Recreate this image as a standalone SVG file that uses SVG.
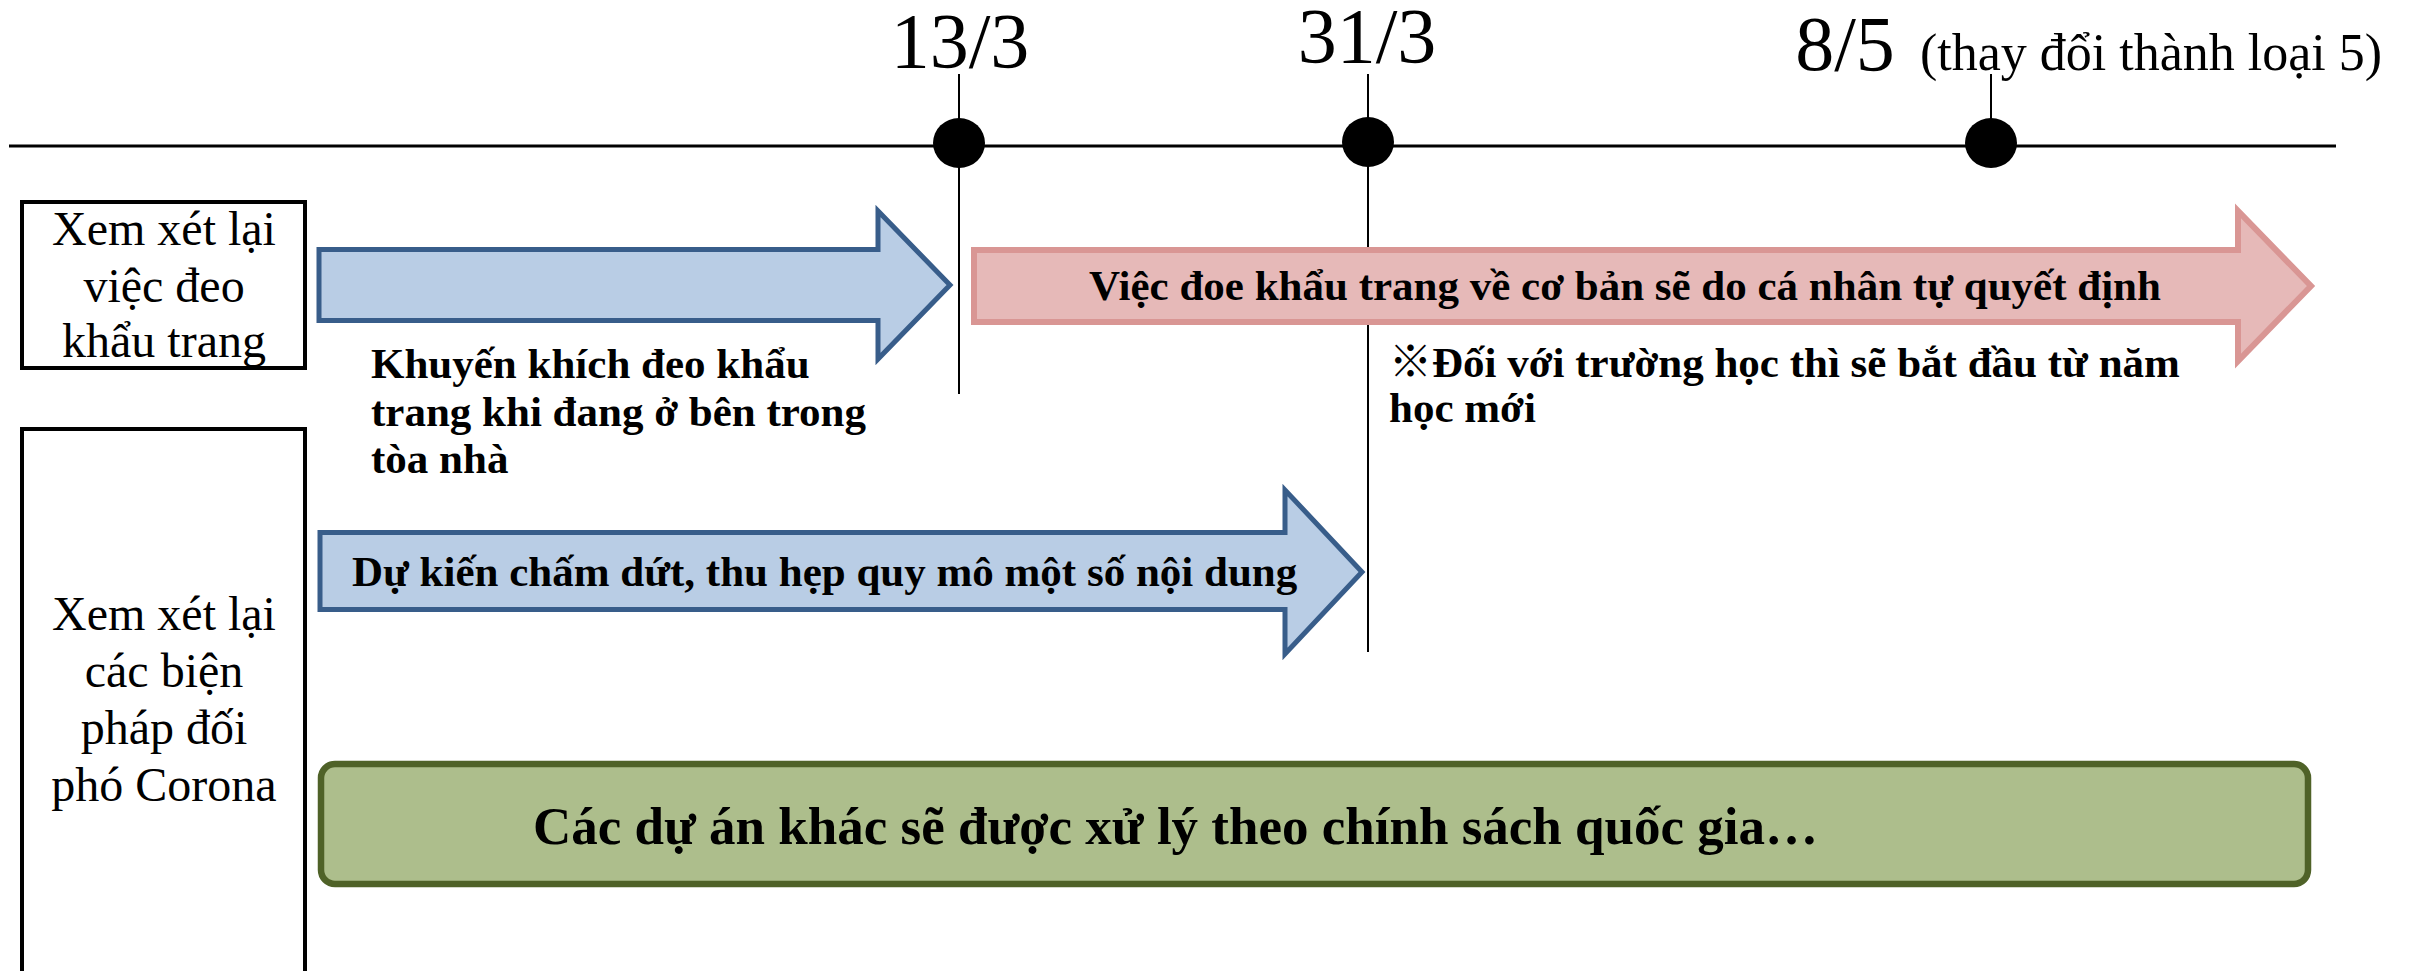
<svg xmlns="http://www.w3.org/2000/svg" width="2410" height="971" viewBox="0 0 2410 971">
<style>
text { font-family: "Liberation Serif", "Noto Sans CJK JP", serif; fill: #000; }
.date { font-size: 78px; text-anchor: middle; }
.note { font-size: 52px; }
.lbl { font-size: 48px; text-anchor: middle; }
.b { font-size: 43px; font-weight: bold; }
.big { font-size: 53px; font-weight: bold; }
.box { fill: #fff; stroke: #000; stroke-width: 4; }
.tl { stroke: #000; stroke-width: 3; fill: none; }
.vl { stroke: #000; stroke-width: 2; fill: none; }
.blue { fill: #B9CDE5; stroke: #385D8A; stroke-width: 5; stroke-linejoin: miter; }
.pink { fill: #E6B9B8; stroke: #D99694; stroke-width: 6; stroke-linejoin: miter; }
.green { fill: #ADBE8C; stroke: #4F6228; stroke-width: 6.5; }
</style>
<rect width="2410" height="971" fill="#fff"/>
<g id="connectors">
<line class="tl" x1="9" y1="146" x2="2336" y2="146"/>
<line class="vl" x1="959" y1="74" x2="959" y2="394"/>
<line class="vl" x1="1368" y1="74" x2="1368" y2="652"/>
<line class="vl" x1="1991" y1="74" x2="1991" y2="143"/>
</g>
<g id="date-13-3">
<ellipse cx="959" cy="143" rx="26" ry="25" fill="#000"/>
<text class="date" x="960" y="67">13/3</text>
</g>
<g id="date-31-3">
<ellipse cx="1368" cy="142" rx="26" ry="25" fill="#000"/>
<text class="date" x="1367" y="62">31/3</text>
</g>
<g id="date-8-5">
<ellipse cx="1991" cy="143" rx="26" ry="25" fill="#000"/>
<text class="date" x="1845" y="70">8/5</text>
<text class="note" x="1920" y="70">(thay đổi thành loại 5)</text>
</g>
<g id="box-mask">
<rect class="box" x="22" y="202" width="283" height="166"/>
<text class="lbl" x="164" y="245">Xem xét lại</text>
<text class="lbl" x="164" y="302">việc đeo</text>
<text class="lbl" x="164" y="357">khẩu trang</text>
</g>
<g id="box-corona">
<rect class="box" x="22" y="429" width="283" height="560"/>
<text class="lbl" x="164" y="630">Xem xét lại</text>
<text class="lbl" x="164" y="687">các biện</text>
<text class="lbl" x="164" y="744">pháp đối</text>
<text class="lbl" x="164" y="801">phó Corona</text>
</g>
<g id="arrow-mask-recommend">
<polygon class="blue" points="319,249.5 878,249.5 878,211 950,285 878,359 878,320.5 319,320.5"/>
<text class="b" x="371" y="378">Khuyến khích đeo khẩu</text>
<text class="b" x="371" y="426">trang khi đang ở bên trong</text>
<text class="b" x="371" y="473">tòa nhà</text>
</g>
<g id="arrow-mask-personal">
<polygon class="pink" points="974,250 2238,250 2238,211 2311,286 2238,361 2238,322 974,322"/>
<text class="b" x="1625" y="300" text-anchor="middle">Việc đoe khẩu trang về cơ bản sẽ do cá nhân tự quyết định</text>
<text class="b" x="1389" y="377">※Đối với trường học thì sẽ bắt đầu từ năm</text>
<text class="b" x="1389" y="422">học mới</text>
</g>
<g id="arrow-corona">
<polygon class="blue" points="320,532.5 1285,532.5 1285,490 1362,572 1285,654 1285,609.5 320,609.5"/>
<text class="b" x="352" y="586">Dự kiến chấm dứt, thu hẹp quy mô một số nội dung</text>
</g>
<g id="other-projects">
<rect class="green" x="321" y="764" width="1987" height="120" rx="14"/>
<text class="big" x="533" y="844">Các dự án khác sẽ được xử lý theo chính sách quốc gia…</text>
</g>
</svg>
